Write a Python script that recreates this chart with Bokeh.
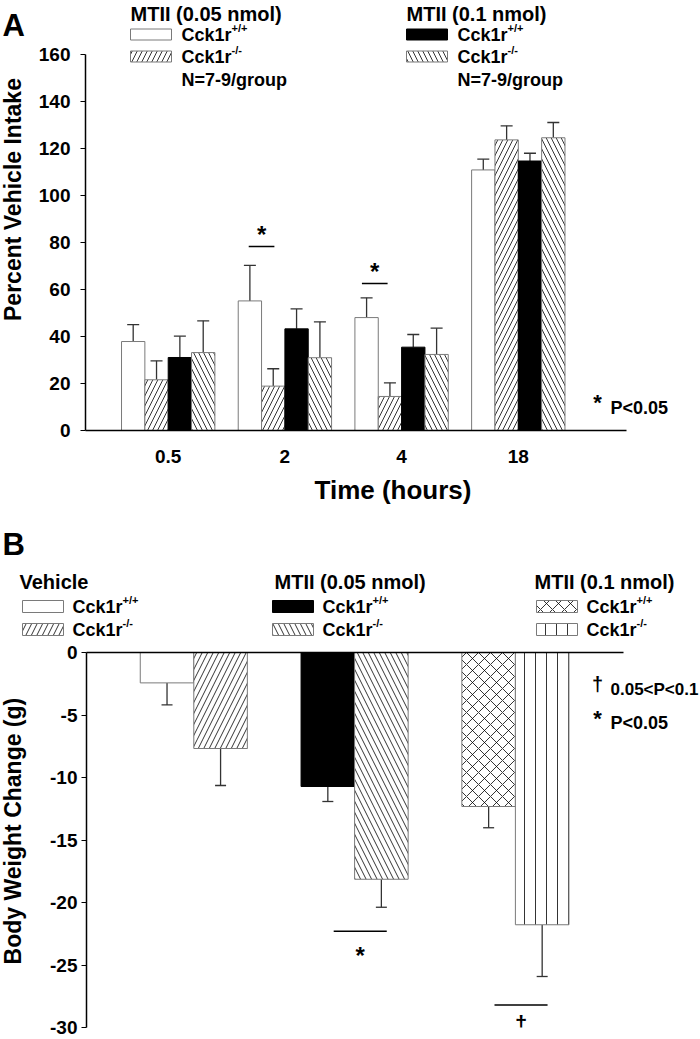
import numpy as np
from bokeh.plotting import figure
from bokeh.models import Range1d, FixedTicker, Whisker, TeeHead, ColumnDataSource
from bokeh.layouts import column, row
from bokeh.embed import file_html
from bokeh.resources import INLINE
from bokeh.core.properties import value

FONT = "Liberation Sans"

# ---------------- Panel A data (Percent Vehicle Intake) ----------------
times = ["0.5", "2", "4", "18"]
wt_005 = [37.9, 55.2, 48.1, 111.0]
wt_005_err = [7.2, 15.1, 8.4, 4.6]
ko_005 = [21.6, 18.9, 14.5, 123.8]
ko_005_err = [8.1, 7.4, 5.8, 6.0]
wt_01 = [31.1, 43.3, 35.5, 114.8]
wt_01_err = [9.1, 8.5, 5.4, 3.3]
ko_01 = [33.2, 31.0, 32.4, 124.7]
ko_01_err = [13.5, 15.3, 11.2, 6.5]
a_yticks = [0, 20, 40, 60, 80, 100, 120, 140, 160]
a_sig_x0 = [0.69, 1.66]
a_sig_x1 = [0.91, 1.88]
a_sig_y = [78.4, 62.6]

# ---------------- Panel B data (Body Weight Change) ----------------
b_groups = ["Vehicle", "MTII (0.05 nmol)", "MTII (0.1 nmol)"]
b_wt = [-2.43, -10.72, -12.32]
b_wt_err = [1.76, 1.20, 1.70]
b_ko = [-7.68, -18.14, -21.78]
b_ko_err = [2.96, 2.24, 4.14]
b_yticks = [0, -5, -10, -15, -20, -25, -30]
b_ytick_labels = ["0", "-5", "-10", "-15", "-20", "-25", "-30"]
b_sig_x0 = [0.87, 1.87]
b_sig_x1 = [1.20, 2.20]
b_sig_y = [-22.3, -28.2]
b_sig_marks = ["*", "\u2020"]

geno = "Cck1r"
geno_sup = ["+/+", "-/-"]
n_text = "N=7-9/group"

GRAY = "#7a7a7a"
ERR = "#333333"
W = 700
SW = 34          # width of the left strips holding panel letters / axis titles


def txt(p, x, y, s, size, align="left", baseline="middle", xo=0, yo=0, angle=0):
    p.text(x=[x], y=[y], text=[s], text_font=value(FONT), text_font_style="bold",
           text_font_size=size, text_align=align, text_baseline=baseline,
           text_color="black", x_offset=xo, y_offset=yo, angle=angle)


def bar_style(fill, hatch, scale=11):
    d = dict(fill_color=fill, line_color=GRAY if fill == "white" else "black", line_width=1)
    if hatch:
        d.update(hatch_pattern=hatch, hatch_color="black", hatch_weight=0.8, hatch_scale=scale)
    return d


def style_axis(ax_, size):
    ax_.axis_line_width = 1.5
    ax_.axis_line_color = "black"
    ax_.major_tick_line_color = "black"
    ax_.major_tick_line_width = 1.2
    ax_.minor_tick_line_color = None
    ax_.major_label_text_font = FONT
    ax_.major_label_text_font_style = "bold"
    ax_.major_label_text_font_size = size
    ax_.major_label_text_color = "black"


def strip(w, h, y_top):
    s = figure(width=w, height=h, x_range=Range1d(0, w), y_range=Range1d(y_top + h, y_top),
               output_backend="svg", toolbar_location=None, title=None,
               x_axis_location=None, y_axis_location=None, min_border=0)
    s.outline_line_color = None
    s.grid.visible = False
    return s


# ====================== Panel A ======================
HA = 525
A_PX = 116.7          # px per group
A_C0 = 167.7          # page x of first group centre
A_Y0 = 430.0          # page y of zero
A_PY = 2.3475         # px per percent


def ax(px):
    return (px - A_C0) / A_PX


def ay(py):
    return (A_Y0 - py) / A_PY


pA = figure(width=W - SW, height=HA, x_range=Range1d(ax(85), ax(700)), y_range=Range1d(0, ay(0)),
            output_backend="svg", toolbar_location=None, title=None,
            min_border_left=85 - SW, min_border_right=0, min_border_top=0, min_border_bottom=HA - 430)
pA.outline_line_color = None
pA.grid.visible = False

offsets = [-0.3, -0.1, 0.1, 0.3]
a_series = [(wt_005, wt_005_err, "white", None), (ko_005, ko_005_err, "white", "/"),
            (wt_01, wt_01_err, "black", None), (ko_01, ko_01_err, "white", "\\")]
gidx = np.arange(len(times))
for off, (vals, errs, fill, hatch) in zip(offsets, a_series):
    xs = gidx + off
    pA.vbar(x=xs, top=vals, width=0.2, **bar_style(fill, hatch, 10))
    src = ColumnDataSource(dict(base=xs, lower=vals, upper=np.array(vals) + np.array(errs)))
    pA.add_layout(Whisker(source=src, base="base", lower="lower", upper="upper", dimension="height",
                          line_color=ERR, line_width=1.3, lower_head=None,
                          upper_head=TeeHead(size=12, line_color=ERR, line_width=1.3)))

pA.segment(x0=a_sig_x0, x1=a_sig_x1, y0=a_sig_y, y1=a_sig_y, line_color="black", line_width=1.5)
for x0, x1, y in zip(a_sig_x0, a_sig_x1, a_sig_y):
    txt(pA, (x0 + x1) / 2, y, "*", "24px", align="center", yo=-12)

xa = pA.xaxis[0]
style_axis(xa, "19px")
xa.ticker = FixedTicker(ticks=list(gidx))
xa.major_label_overrides = {int(i): t for i, t in zip(gidx, times)}
xa.bounds = (ax(85), ax(626))
xa.major_tick_out = 0
xa.major_tick_in = 0
xa.major_label_standoff = 19
xa.axis_label = "Time (hours)"
xa.axis_label_text_font = FONT
xa.axis_label_text_font_style = "bold"
xa.axis_label_text_font_size = "26px"
xa.axis_label_text_color = "black"
xa.axis_label_standoff = 9

ya = pA.yaxis[0]
style_axis(ya, "19px")
ya.ticker = FixedTicker(ticks=a_yticks)
ya.bounds = (0, 160)
ya.major_tick_out = 5
ya.major_tick_in = 0
ya.major_label_standoff = 10

# legend of panel A
a_leg = [(130, "MTII (0.05 nmol)", [("white", None), ("white", "/")]),
         (406, "MTII (0.1 nmol)", [("black", None), ("white", "\\")])]
rows_a = [34, 56]
for cx, title, boxes in a_leg:
    txt(pA, ax(cx), ay(13), title, "20px")
    for (fill, hatch), ry, sup in zip(boxes, rows_a, geno_sup):
        pA.quad(left=ax(cx), right=ax(cx + 41), top=ay(ry - 5.5), bottom=ay(ry + 5.5),
                **bar_style(fill, hatch, 10))
        txt(pA, ax(cx + 51), ay(ry), geno, "18px")
        txt(pA, ax(cx + 51), ay(ry), sup, "11px", xo=50, yo=-7)
    txt(pA, ax(cx + 51), ay(79), n_text, "18px")

# right note
txt(pA, ax(597), ay(397), "*", "22px", align="center", yo=5)
txt(pA, ax(610), ay(407), "P<0.05", "18px")

# left strip of panel A: letter and y-axis title
sA = strip(SW, HA, 0)
txt(sA, 2, 31, "A", "31px")
txt(sA, 12, 243, "Percent Vehicle Intake", "23px", align="center", angle=np.pi / 2)

# ====================== Panel B legend strip ======================
HL = 115
pL = strip(W, HL, HA)
txt(pL, 2, 544, "B", "31px")
b_leg = [(19, 22, [("white", None), ("white", "/")]),
         (274, 272, [("black", None), ("white", "\\")]),
         (534, 536, [("white", "x"), ("white", "|")])]
rows_b = [606, 629]
for (tx, bx_, boxes), title in zip(b_leg, b_groups):
    txt(pL, tx, 581, title, "20px")
    for (fill, hatch), ry, sup in zip(boxes, rows_b, geno_sup):
        pL.quad(left=bx_, right=bx_ + 41, top=ry - 6, bottom=ry + 6,
                **bar_style(fill, hatch, 11 if hatch != "x" else 12))
        txt(pL, bx_ + 50, ry, geno, "18px")
        txt(pL, bx_ + 50, ry, sup, "11px", xo=50, yo=-7)

# ====================== Panel B ======================
HB = 1039 - HA - HL
B_PX = 160.8
B_C0 = 193.3
B_TOP = 652.0
B_PY = 12.5
B_PAGE0 = HA + HL      # page y of top of panel B figure


def bx(px):
    return (px - B_C0) / B_PX


def by(py):
    return -(py - B_TOP) / B_PY


top_border = int(round(B_TOP - B_PAGE0))
pB = figure(width=W - SW, height=HB, x_range=Range1d(bx(86), bx(700)), y_range=Range1d(-30, 0),
            output_backend="svg", toolbar_location=None, title=None, x_axis_location="above",
            min_border_left=86 - SW, min_border_right=0, min_border_top=top_border,
            min_border_bottom=HB - top_border - int(round(30 * B_PY)))
pB.outline_line_color = None
pB.grid.visible = False

bgidx = np.arange(len(b_groups))
b_series = [(b_wt, b_wt_err, -0.1665, [("white", None, 11), ("black", None, 11), ("white", "x", 12)]),
            (b_ko, b_ko_err, 0.1665, [("white", "/", 11), ("white", "\\", 11), ("white", "|", 11)])]
for vals, errs, off, styles in b_series:
    for g, v, (fill, hatch, sc) in zip(bgidx, vals, styles):
        pB.vbar(x=[g + off], top=[0], bottom=[v], width=0.333, **bar_style(fill, hatch, sc))
    xs = bgidx + off
    src = ColumnDataSource(dict(base=xs, upper=vals, lower=np.array(vals) - np.array(errs)))
    pB.add_layout(Whisker(source=src, base="base", lower="lower", upper="upper", dimension="height",
                          line_color=ERR, line_width=1.3, upper_head=None,
                          lower_head=TeeHead(size=11, line_color=ERR, line_width=1.3)))

pB.segment(x0=b_sig_x0, x1=b_sig_x1, y0=b_sig_y, y1=b_sig_y, line_color="black", line_width=1.5)
for x0, x1, y, m in zip(b_sig_x0, b_sig_x1, b_sig_y, b_sig_marks):
    if m == "*":
        txt(pB, (x0 + x1) / 2, y, m, "24px", align="center", yo=24)
    else:
        txt(pB, (x0 + x1) / 2, y, m, "22px", align="center", yo=18)

xb = pB.xaxis[0]
style_axis(xb, "19px")
xb.ticker = FixedTicker(ticks=[])
xb.bounds = (bx(86), bx(623))
xb.major_tick_out = 0
xb.major_tick_in = 0
xb.major_label_standoff = 0

yb = pB.yaxis[0]
style_axis(yb, "19px")
yb.ticker = FixedTicker(ticks=b_yticks)
yb.major_label_overrides = {t: s for t, s in zip(b_yticks, b_ytick_labels)}
yb.bounds = (-30, 0)
yb.major_tick_out = 5
yb.major_tick_in = 0
yb.major_label_standoff = 4

txt(pB, bx(597), by(683), "\u2020", "20px", align="center")
txt(pB, bx(610), by(689), "0.05<P<0.1", "17px")
txt(pB, bx(597), by(713), "*", "22px", align="center", yo=5)
txt(pB, bx(610), by(722), "P<0.05", "18px")

# left strip of panel B: y-axis title
sB = strip(SW, HB, B_PAGE0)
txt(sB, 12, 830, "Body Weight Change (g)", "23px", align="center", angle=np.pi / 2)

layout = column(row(sA, pA), pL, row(sB, pB))
open("out.html", "w").write(file_html(layout, INLINE))
